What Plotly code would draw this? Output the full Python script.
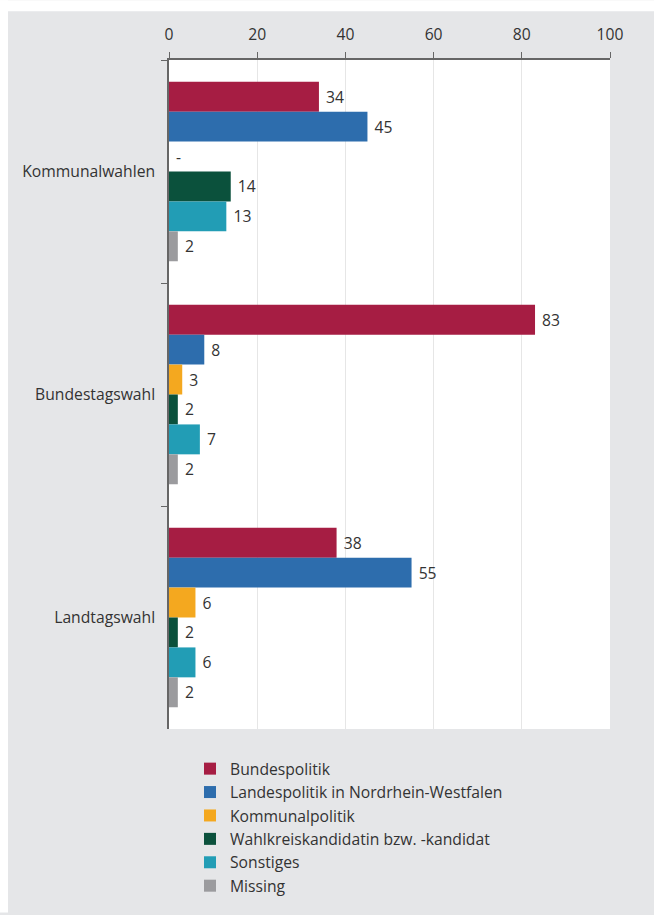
import plotly.graph_objects as go

# Wahlen (categories) and answer shares in percent
wahlen = ["Kommunalwahlen", "Bundestagswahl", "Landtagswahl"]

series_names = [
    "Bundespolitik",
    "Landespolitik in Nordrhein-Westfalen",
    "Kommunalpolitik",
    "Wahlkreiskandidatin bzw. -kandidat",
    "Sonstiges",
    "Missing",
]
bundespolitik = [34, 83, 38]
landespolitik = [45, 8, 55]
kommunalpolitik = [None, 3, 6]
wahlkreis = [14, 2, 2]
sonstiges = [13, 7, 6]
missing = [2, 2, 2]

x_ticks = [0, 20, 40, 60, 80, 100]

colors = ["#a61d43", "#2d6dad", "#f4a81f", "#0b513c", "#229db5", "#9b9b9e"]
values = [bundespolitik, landespolitik, kommunalpolitik, wahlkreis, sonstiges, missing]

W, H = 654, 915
ML, MR, MT, MB = 169, 44, 60, 184
BG = "#e5e6e8"
FONT = "Open Sans"
FS = 15.7
TXT = "#333333"

fig = go.Figure()
for name, vals, col in zip(series_names, values, colors):
    xs = [v if v is not None else 0 for v in vals]
    txt = [" " + str(v) if v is not None else " -" for v in vals]
    fig.add_trace(go.Bar(
        name=name, y=wahlen, x=xs, orientation="h",
        marker=dict(color=col, line=dict(width=0)),
        text=txt, textposition="outside", cliponaxis=False,
        textfont=dict(family=FONT, size=FS, color=TXT),
        hoverinfo="skip",
    ))

# white strips along the top and left edge of the page
PW, PH = W - ML - MR, H - MT - MB
fig.add_shape(type="rect", xref="paper", yref="paper",
              x0=-ML / PW, x1=1 + MR / PW,
              y0=1 + (MT - 11) / PH, y1=1 + MT / PH,
              fillcolor="white", line=dict(width=0), layer="below")
fig.add_shape(type="rect", xref="paper", yref="paper",
              x0=-ML / PW, x1=-(ML - 8) / PW,
              y0=-MB / PH, y1=1 + MT / PH,
              fillcolor="white", line=dict(width=0), layer="below")

fig.update_layout(
    width=W, height=H,
    margin=dict(l=ML, r=MR, t=MT, b=MB, pad=0),
    paper_bgcolor=BG, plot_bgcolor="white",
    barmode="group", bargap=0.195, bargroupgap=0,
    font=dict(family=FONT, size=FS, color=TXT),
    showlegend=True,
    legend=dict(
        x=(190 - ML) / PW, xanchor="left",
        y=-(754 - (H - MB)) / PH, yanchor="top",
        bgcolor="rgba(0,0,0,0)", traceorder="normal",
        font=dict(family=FONT, size=FS, color=TXT),
        itemwidth=30, tracegroupgap=0,
    ),
    xaxis=dict(
        side="top", range=[0, 100], tickvals=x_ticks,
        showgrid=True, gridcolor="#e6e6e6", gridwidth=1,
        showline=True, linecolor="#666666", linewidth=1.5,
        ticks="outside", ticklen=6, tickcolor="#666666", tickwidth=1,
        tickfont=dict(family=FONT, size=FS, color=TXT),
        ticklabelstandoff=6,
        zeroline=False, fixedrange=True,
    ),
    yaxis=dict(
        autorange="reversed", type="category",
        showline=True, linecolor="#666666", linewidth=1.5,
        ticks="outside", tickson="boundaries", ticklen=6,
        tickcolor="#666666", tickwidth=1,
        showgrid=False,
        tickfont=dict(family=FONT, size=FS, color=TXT),
        ticklabelstandoff=9,
    ),
)

fig.write_html("out.html")
